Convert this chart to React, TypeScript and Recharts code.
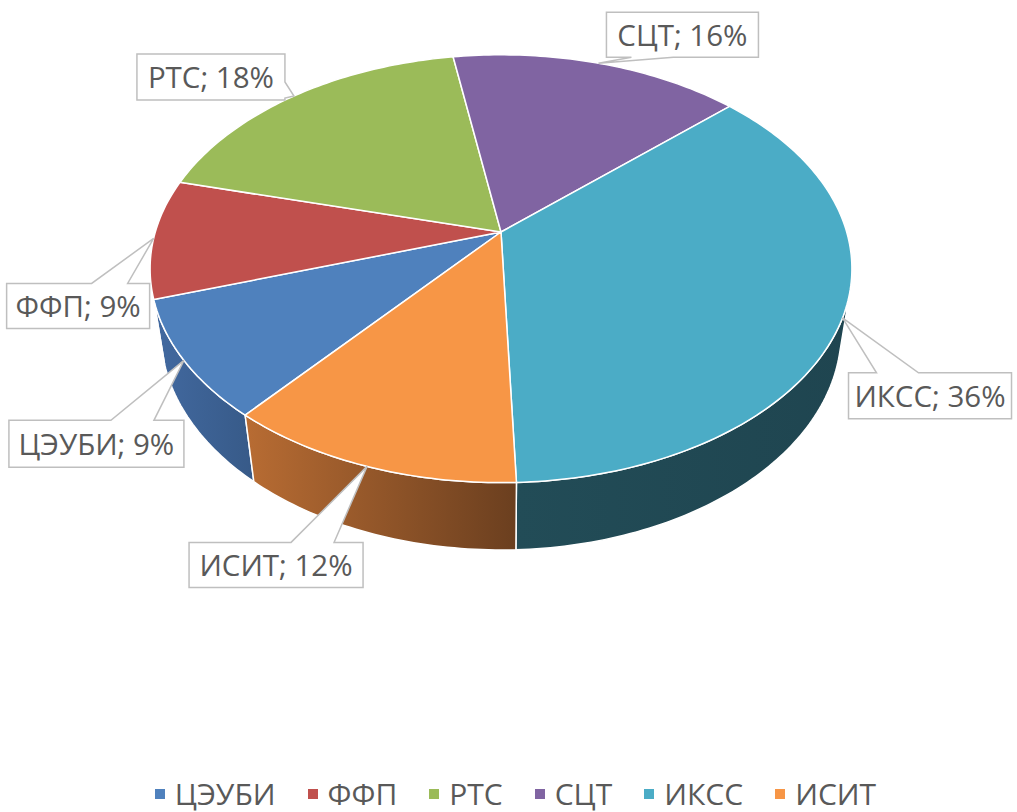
import React from 'react';
import { PieChart, Pie, Legend } from 'recharts';

// ---- data ----
const CATEGORIES = ['ЦЭУБИ', 'ФФП', 'РТС', 'СЦТ', 'ИКСС', 'ИСИТ'];
const SHARES = [8.9, 9.0, 18.4, 15.8, 36.2, 11.7];

// ---- styles / layout ----
const COLORS = ['#4F81BD', '#C0504D', '#9BBB59', '#8064A2', '#4BACC6', '#F79646'];
const WALL_COLORS: [string, string][] = [
  ['#4269A0', '#375A88'],
  ['#A34542', '#8A3633'],
  ['#84A04B', '#6E8A3C'],
  ['#6D5589', '#5A4672'],
  ['#224C57', '#1F4550'],
  ['#B86C33', '#6B3F1F'],
];
// callout box relative to the tip: dx, dy, w, h, side, base1, base2
type Side = 'top' | 'bottom' | 'right';
const LABEL_LAYOUT: { dx: number; dy: number; w: number; h: number; side: Side; b1: number; b2: number }[] = [
  { dx: -175, dy: 60, w: 175, h: 47, side: 'top', b1: 102, b2: 145 },
  { dx: -147, dy: 45, w: 143, h: 45, side: 'top', b1: 85, b2: 121 },
  { dx: -157, dy: -42, w: 148, h: 46, side: 'right', b1: 28, b2: 44 },
  { dx: 8, dy: -51, w: 152, h: 45, side: 'bottom', b1: 25, b2: 67 },
  { dx: 6, dy: 55, w: 163, h: 46, side: 'top', b1: 28, b2: 70 },
  { dx: -178, dy: 76, w: 174, h: 45, side: 'top', b1: 102, b2: 145 },
];

const FONT = '"Open Sans", "Noto Sans", sans-serif';
const TEXT_COLOR = '#595959';

const data = CATEGORIES.map((name, i) => ({ name, value: SHARES[i] }));

// ---- 3D projection (perspective view of a tilted disc) ----
const COS_A = 0.7996;
const SIN_A = 0.6005;
const KA = 0.1716;
const KB = 0.1289;
const THICK = 0.237;
const VIS_LO = 105.6;
const VIS_HI = 254.4;

function project(cx: number, cy: number, W: number, phi: number, h: number): [number, number] {
  const p = (phi * Math.PI) / 180;
  const X = Math.sin(p);
  const Z = Math.cos(p);
  const depth = 1 + KA * Z - KB * h;
  return [cx + (W * X) / depth, cy - (W * (h * COS_A + Z * SIN_A)) / depth];
}

function toPhi(startAngle: number, endAngle: number): [number, number] {
  let a = 90 - startAngle;
  let b = 90 - endAngle;
  if (a > b) [a, b] = [b, a];
  if (b <= 0) {
    a += 360;
    b += 360;
  }
  return [a, b];
}

function arcPts(cx: number, cy: number, W: number, a: number, b: number, h: number) {
  const n = Math.max(2, Math.ceil(Math.abs(b - a)));
  const pts: [number, number][] = [];
  for (let i = 0; i <= n; i++) pts.push(project(cx, cy, W, a + ((b - a) * i) / n, h));
  return pts;
}

const ptsToD = (pts: [number, number][]) =>
  'M' + pts.map((p) => `${p[0].toFixed(2)},${p[1].toFixed(2)}`).join('L') + 'Z';

const renderWall = (props: any) => {
  const { cx, cy, outerRadius, startAngle, endAngle, index } = props;
  const [a, b] = toPhi(startAngle, endAngle);
  const lo = Math.max(a, VIS_LO);
  const hi = Math.min(b, VIS_HI);
  if (hi <= lo) return <g />;
  const top = arcPts(cx, cy, outerRadius, lo, hi, 0);
  const bot = arcPts(cx, cy, outerRadius, hi, lo, -THICK);
  const id = `wall-grad-${index}`;
  return (
    <g>
      <defs>
        <linearGradient id={id} x1="0" y1="0" x2="1" y2="0">
          <stop offset="0" stopColor={WALL_COLORS[index][0]} />
          <stop offset="1" stopColor={WALL_COLORS[index][1]} />
        </linearGradient>
      </defs>
      <path d={ptsToD([...top, ...bot])} fill={`url(#${id})`} stroke="#fff" strokeWidth={1.5} strokeLinejoin="round" />
    </g>
  );
};

const renderTop = (props: any) => {
  const { cx, cy, outerRadius, startAngle, endAngle, index } = props;
  const [a, b] = toPhi(startAngle, endAngle);
  const pts: [number, number][] = [[cx, cy], ...arcPts(cx, cy, outerRadius, a, b, 0)];
  return <path d={ptsToD(pts)} fill={COLORS[index]} stroke="#fff" strokeWidth={1.5} strokeLinejoin="round" />;
};

function calloutPath(x: number, y: number, w: number, h: number, tx: number, ty: number, side: Side, b1: number, b2: number) {
  const r = x + w;
  const bt = y + h;
  if (side === 'top')
    return `M${x},${y}L${x + b1},${y}L${tx},${ty}L${x + b2},${y}L${r},${y}L${r},${bt}L${x},${bt}Z`;
  if (side === 'bottom')
    return `M${x},${y}L${r},${y}L${r},${bt}L${x + b2},${bt}L${tx},${ty}L${x + b1},${bt}L${x},${bt}Z`;
  return `M${x},${y}L${r},${y}L${r},${y + b1}L${tx},${ty}L${r},${y + b2}L${r},${bt}L${x},${bt}Z`;
}

const renderCallout = (props: any) => {
  const { cx, cy, outerRadius, startAngle, endAngle, index, name, percent } = props;
  const [a, b] = toPhi(startAngle, endAngle);
  const [tx, ty] = project(cx, cy, outerRadius, (a + b) / 2, 0);
  const L = LABEL_LAYOUT[index];
  const x = tx + L.dx;
  const y = ty + L.dy;
  return (
    <g>
      <path
        d={calloutPath(x, y, L.w, L.h, tx, ty, L.side, L.b1, L.b2)}
        fill="#fff"
        stroke="#BFBFBF"
        strokeWidth={1.5}
        strokeLinejoin="miter"
      />
      <text
        x={x + L.w / 2}
        y={y + L.h / 2}
        dy="0.38em"
        textAnchor="middle"
        fill={TEXT_COLOR}
        fontSize={29.5}
        fontFamily={FONT}
      >
        {`${name}; ${Math.round(percent * 100)}%`}
      </text>
    </g>
  );
};

const renderLegend = () => (
  <div
    style={{
      display: 'flex',
      justifyContent: 'center',
      alignItems: 'center',
      fontFamily: FONT,
      fontSize: 30,
      lineHeight: '30px',
      color: TEXT_COLOR,
      paddingLeft: 14,
    }}
  >
    {CATEGORIES.map((name, i) => (
      <div key={name} style={{ display: 'flex', alignItems: 'center', marginRight: i < CATEGORIES.length - 1 ? 32 : 0 }}>
        <span style={{ display: 'inline-block', width: 10, height: 10, background: COLORS[i], marginRight: 10 }} />
        <span>{name}</span>
      </div>
    ))}
  </div>
);

const commonPie = {
  data,
  dataKey: 'value',
  nameKey: 'name',
  cx: 501,
  cy: 232,
  outerRadius: 345.7,
  startAngle: 230,
  endAngle: -130,
  fill: 'none',
  stroke: 'none',
  labelLine: false,
  isAnimationActive: false,
};

export default function App() {
  return (
    <div style={{ position: 'absolute', left: 0, top: 0, width: 1017, height: 812, background: '#fff' }}>
      <PieChart width={1017} height={812} margin={{ top: 0, right: 0, bottom: 0, left: 0 }}>
        <Pie {...(commonPie as any)} label={renderWall} />
        <Pie {...(commonPie as any)} label={renderTop} legendType="none" />
        <Pie {...(commonPie as any)} label={renderCallout} legendType="none" />
        <Legend content={renderLegend} wrapperStyle={{ position: 'absolute', top: 779, left: 0, width: 1017 }} />
      </PieChart>
    </div>
  );
}
